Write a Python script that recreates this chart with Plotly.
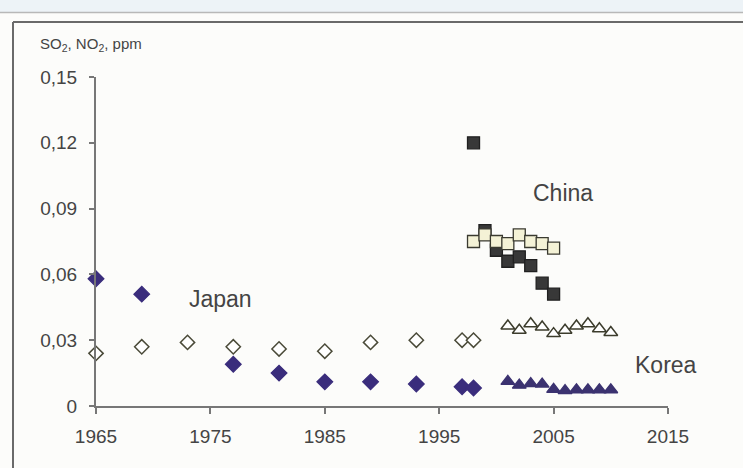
import plotly.graph_objects as go

# Annual mean concentrations, ppm
japan_years = [1965, 1969, 1973, 1977, 1981, 1985, 1989, 1993, 1997, 1998]
japan_so2_years = [1965, 1969, 1977, 1981, 1985, 1989, 1993, 1997, 1998]
japan_so2 = [0.058, 0.051, 0.019, 0.015, 0.011, 0.011, 0.010, 0.0088, 0.0082]
japan_no2 = [0.024, 0.027, 0.029, 0.027, 0.026, 0.025, 0.029, 0.030, 0.030, 0.030]

china_years = [1998, 1999, 2000, 2001, 2002, 2003, 2004, 2005]
china_so2 = [0.120, 0.080, 0.071, 0.066, 0.068, 0.064, 0.056, 0.051]
china_no2 = [0.075, 0.078, 0.075, 0.074, 0.078, 0.075, 0.074, 0.072]

korea_years = [2001, 2002, 2003, 2004, 2005, 2006, 2007, 2008, 2009, 2010]
korea_so2 = [0.0112, 0.0095, 0.0102, 0.0100, 0.0076, 0.0070, 0.0074, 0.0074, 0.0074, 0.0074]
korea_no2 = [0.0365, 0.0345, 0.0375, 0.0360, 0.0330, 0.0345, 0.0365, 0.0375, 0.0352, 0.0335]

y_tickvals = [0, 0.03, 0.06, 0.09, 0.12, 0.15]
y_ticktext = ["0", "0,03", "0,06", "0,09", "0,12", "0,15"]
x_tickvals = [1965, 1975, 1985, 1995, 2005, 2015]

W, H = 743, 468
ML, MR, MT, MB = 96, 75, 77, 62
PW, PH = W - ML - MR, H - MT - MB


def px_x(px):
    return (px - ML) / PW


def px_y(py):
    return 1 - (py - MT) / PH


def series(x, y, symbol, fill, line, size=12, lw=1.3):
    return go.Scatter(
        x=x, y=y, mode="markers", cliponaxis=False, showlegend=False,
        marker=dict(symbol=symbol, size=size, color=fill,
                    line=dict(color=line, width=lw)),
    )


fig = go.Figure()
fig.add_trace(series(japan_years, japan_no2, "diamond", "#ffffff", "#4a4a38", 11, 1.5))
fig.add_trace(series(japan_so2_years, japan_so2, "diamond", "#3a2d7c", "#3a2d7c", 12))
fig.add_trace(series(china_years, china_so2, "square", "#383838", "#202020", 12))
fig.add_trace(series(china_years, china_no2, "square", "#f4f2d6", "#3a3a30", 12))
fig.add_trace(series(korea_years, korea_no2, "triangle-up", "#ffffff", "#3c3c2c", 12, 1.5))
fig.add_trace(series(korea_years, korea_so2, "triangle-up", "#3b3270", "#3b3270", 12))

font = dict(family="Liberation Sans, Arial, sans-serif", color="#444444")

shapes = [
    # header band and separator
    dict(type="rect", xref="paper", yref="paper", x0=px_x(0), x1=px_x(W),
         y0=px_y(0), y1=px_y(12), fillcolor="#edf3f7", line=dict(width=0), layer="below"),
    dict(type="line", xref="paper", yref="paper", x0=px_x(0), x1=px_x(W),
         y0=px_y(12.5), y1=px_y(12.5), line=dict(color="#b8b8b8", width=1.5)),
    # chart frame
    dict(type="line", xref="paper", yref="paper", x0=px_x(13), x1=px_x(W),
         y0=px_y(22), y1=px_y(22), line=dict(color="#6a6a6a", width=2)),
    dict(type="line", xref="paper", yref="paper", x0=px_x(13), x1=px_x(13),
         y0=px_y(22), y1=px_y(H), line=dict(color="#6a6a6a", width=2)),
]

annotations = [
    dict(text="SO<sub>2</sub>, NO<sub>2</sub>, ppm", xref="paper", yref="paper",
         x=px_x(38), y=px_y(45), xanchor="left", yanchor="middle", showarrow=False,
         font=dict(size=15, **font)),
    dict(text="Japan", x=1975.9, y=0.049, showarrow=False, font=dict(size=23, **font)),
    dict(text="China", x=2005.8, y=0.097, showarrow=False, font=dict(size=23, **font)),
    dict(text="Korea", x=2014.8, y=0.0185, showarrow=False, font=dict(size=23, **font)),
]

fig.update_layout(
    width=W, height=H,
    margin=dict(l=ML, r=MR, t=MT, b=MB),
    paper_bgcolor="#fcfcfa", plot_bgcolor="#fcfcfa",
    shapes=shapes, annotations=annotations,
    xaxis=dict(range=[1965, 2015], tickvals=x_tickvals, showgrid=False, zeroline=False,
               showline=True, linecolor="#777777", linewidth=2, ticks="outside",
               ticklen=6, tickwidth=2, tickcolor="#777777", ticklabelstandoff=6,
               tickfont=dict(size=19, **font)),
    yaxis=dict(range=[0, 0.15], tickvals=y_tickvals, ticktext=y_ticktext, showgrid=False,
               zeroline=False, showline=True, linecolor="#777777", linewidth=2,
               ticks="outside", ticklen=5, tickwidth=2, tickcolor="#777777",
               ticklabelstandoff=8, tickfont=dict(size=19, **font)),
)

fig.write_html("out.html")
